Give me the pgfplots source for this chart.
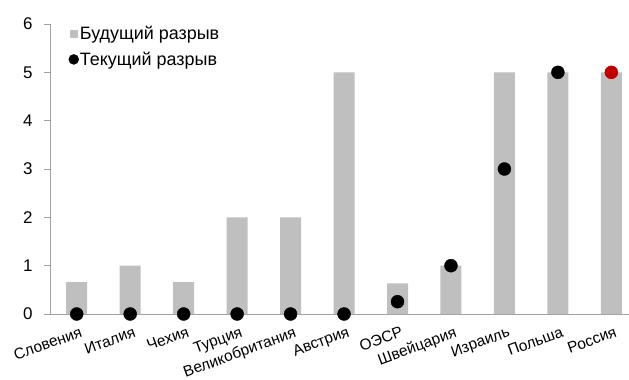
\documentclass[border=0pt]{standalone}
\usepackage{fontspec}
\setmainfont{Liberation Sans}
\usepackage{pgfplots}
\pgfplotsset{compat=1.18}
\definecolor{bargray}{HTML}{BFBFBF}
\definecolor{axgray}{HTML}{A0A0A0}
\definecolor{rusred}{HTML}{C00000}
\begin{document}
\begin{tikzpicture}
\path[use as bounding box] (0,0) rectangle (629bp,380bp);
\begin{axis}[
  at={(50bp,66bp)}, anchor=south west,
  scale only axis, width=579bp, height=290bp,
  xmin=-0.5, xmax=10.33, ymin=0, ymax=6,
  axis x line*=bottom, axis y line*=left,
  axis line style={axgray, line width=0.8pt},
  xtick={0,...,10},
  xticklabels={Словения,Италия,Чехия,Турция,Великобритания,Австрия,ОЭСР,Швейцария,Израиль,Польша,Россия},
  x tick label style={rotate=20, anchor=north east, font=\fontsize{15.5}{15.5}\selectfont, inner sep=0.5bp, yshift=-6bp, xshift=1bp},
  major x tick style={draw=none},
  ytick={0,...,6},
  y tick label style={font=\fontsize{17}{17}\selectfont, xshift=-8bp},
  ytick pos=left, tick align=outside,
  major tick length=6bp,
  y tick style={axgray, line width=0.8pt},
  /pgf/number format/assume math mode=true,
  clip=false,
  legend style={at={(0.03,1.0)}, anchor=north west, draw=none, fill=none,
    font=\fontsize{18}{18}\selectfont, row sep=9bp, inner sep=1bp,
    nodes={inner sep=1bp}},
  legend cell align=left,
]
\addplot[ybar, bar width=21bp, fill=bargray, draw=none,
  legend image code/.code={\fill[bargray] (1bp,-4bp) rectangle (9bp,4bp);}]
  coordinates {(0,0.66) (1,1) (2,0.66) (3,2) (4,2) (5,5) (6,0.635) (7,1) (8,5) (9,5) (10,5)};
\addlegendentry{Будущий разрыв}
\addplot[only marks, mark=*, mark size=6.5bp, black,
  legend image code/.code={\fill[black] (5bp,0bp) circle (5bp);}]
  coordinates {(0,0) (1,0) (2,0) (3,0) (4,0) (5,0) (6,0.255) (7,1) (8,3) (9,5)};
\addlegendentry{Текущий разрыв}
\addplot[only marks, mark=*, mark size=6.5bp, rusred, forget plot]
  coordinates {(10,5)};
\end{axis}
\end{tikzpicture}
\end{document}
